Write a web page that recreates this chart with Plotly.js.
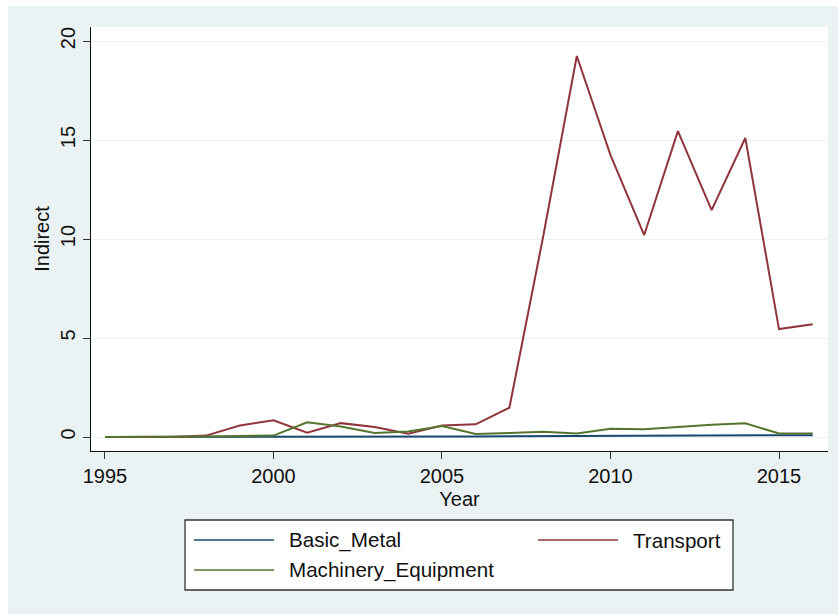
<!DOCTYPE html>
<html>
<head>
<meta charset="utf-8">
<script src="https://cdn.plot.ly/plotly-3.0.1.min.js"></script>
<style>html,body{margin:0;padding:0;background:#ffffff;}#chart{position:absolute;left:8px;top:6px;width:830px;height:608px;}</style>
</head>
<body>
<div id="chart"></div>
<script>
var years = [1995,1996,1997,1998,1999,2000,2001,2002,2003,2004,2005,2006,2007,2008,2009,2010,2011,2012,2013,2014,2015,2016];
var basicMetal = [0,0,0,0,0,0.01,0.01,0.01,0.01,0.02,0.03,0.03,0.04,0.05,0.04,0.05,0.06,0.07,0.08,0.09,0.09,0.09];
var transport = [0,0,0,0.07,0.58,0.84,0.22,0.7,0.5,0.17,0.58,0.64,1.48,10.1,19.24,14.24,10.2,15.45,11.46,15.1,5.45,5.7];
var machinery = [0,0,0,0.03,0.05,0.07,0.74,0.53,0.2,0.28,0.55,0.15,0.2,0.27,0.18,0.42,0.39,0.52,0.62,0.69,0.18,0.18];
var seriesNames = ["Basic_Metal","Transport","Machinery_Equipment"];
var seriesColors = ["#1a476f","#90353b","#55752f"];
var yTicks = [0,5,10,15,20];
var xTicks = [1995,2000,2005,2010,2015];

var data = [basicMetal, transport, machinery].map(function(v,i){
  return {x: years, y: v, type:'scatter', mode:'lines', name: seriesNames[i],
          line:{color: seriesColors[i], width:2}, showlegend:false};
});
var font = {family:'"Liberation Sans", Arial, sans-serif', size:20, color:'#111'};
var legFont = {family:'"Liberation Sans", Arial, sans-serif', size:20.6, color:'#111'};

// page-pixel -> paper coordinate helpers (plot area spans x 91..828, y 27..451 on the page)
function px(p){ return (p-91)/737; }
function py(p){ return (451-p)/424; }

var shapes = [{type:'rect', xref:'paper', yref:'paper', x0:px(185), x1:px(733), y0:py(520), y1:py(590),
               fillcolor:'#ffffff', line:{color:'#333', width:1.3}, layer:'above'}];
var annotations = [];
// legend entries: [row, col]
var slots = [[0,0],[0,1],[1,0]];
var colText = [287, 631], colLine = [[194,274],[538,618]], rowY = [540, 570];
seriesNames.forEach(function(n,i){
  var r = slots[i][0], c = slots[i][1];
  shapes.push({type:'line', xref:'paper', yref:'paper', x0:px(colLine[c][0]), x1:px(colLine[c][1]),
               y0:py(rowY[r]), y1:py(rowY[r]), line:{color:seriesColors[i], width:1.6}, layer:'above'});
  annotations.push({xref:'paper', yref:'paper', x:px(colText[c]), y:py(rowY[r]), xanchor:'left', yanchor:'middle',
                    text:n, showarrow:false, font:legFont});
});

var layout = {
  width:830, height:608,
  paper_bgcolor:'#eaf2f3', plot_bgcolor:'#ffffff',
  margin:{l:83, r:10, t:21, b:163},
  font: font,
  showlegend:false,
  xaxis:{range:[1994.585,2016.454], tickvals:xTicks, ticktext:xTicks.map(String),
         ticks:'outside', ticklen:7, tickwidth:1.2, tickcolor:'#333',
         showline:true, linecolor:'#111', linewidth:1.3, showgrid:false, zeroline:false,
         title:{text:'Year', font:font, standoff:5}, tickfont:font},
  yaxis:{range:[-0.707,20.707], tickvals:yTicks, ticktext:yTicks.map(String), tickangle:-90,
         ticks:'outside', ticklen:7, tickwidth:1.2, tickcolor:'#333',
         showline:true, linecolor:'#111', linewidth:1.3, showgrid:true, gridcolor:'#eaf2f3', gridwidth:1.3,
         zeroline:false, title:{text:'Indirect', font:font, standoff:1}, tickfont:font},
  shapes: shapes,
  annotations: annotations
};
Plotly.newPlot('chart', data, layout, {displayModeBar:false});
</script>
</body>
</html>
